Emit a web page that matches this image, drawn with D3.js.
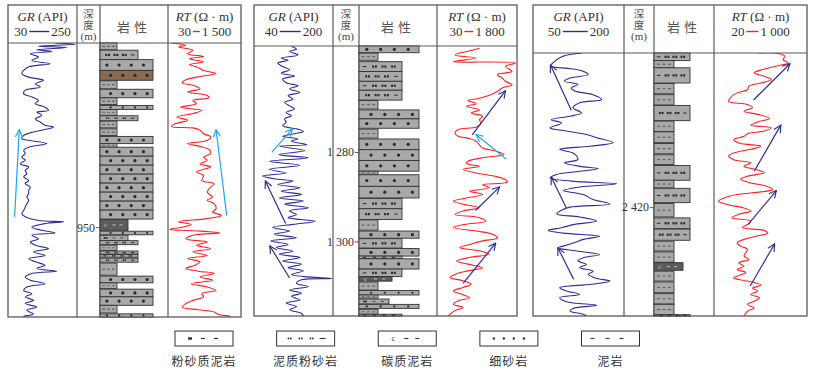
<!DOCTYPE html>
<html><head><meta charset="utf-8">
<script src="https://cdn.jsdelivr.net/npm/d3@7"></script>
<style>
body{margin:0;background:#fff;}
svg text{font-family:"Liberation Serif","DejaVu Serif",serif;fill:#333;}
svg text.cjk{font-family:"Noto Sans CJK SC",sans-serif;}
</style></head>
<body><div id="chart"></div>
<script>
// ---- well 1 ----
const depth1 = [909, 970], depthTicks1 = [950];
const grRange1 = [30, 250], rtRange1 = [30, 1500];
const gr1 = [[909.0,180],[909.3,244],[909.7,127],[910.0,217],[910.5,122],[910.9,170],[911.4,101],[912.1,127],[912.9,106],[913.6,164],[914.3,96],[915.1,80],[915.8,74],[916.6,96],[917.3,143],[918.1,117],[918.8,133],[919.5,85],[920.3,80],[921.0,106],[921.8,127],[922.5,117],[923.3,148],[924.0,159],[924.4,122],[925.1,138],[925.9,117],[926.6,133],[927.3,148],[927.7,175],[928.1,159],[928.8,111],[929.6,80],[930.3,74],[930.7,101],[931.4,154],[932.2,96],[932.9,80],[933.6,85],[934.4,74],[935.1,85],[935.9,69],[936.6,96],[937.4,85],[938.1,90],[938.8,80],[939.6,96],[940.3,85],[941.1,101],[941.8,96],[942.5,96],[943.3,90],[944.0,96],[944.8,90],[945.5,85],[946.3,80],[947.0,74],[947.7,85],[948.5,127],[948.8,207],[949.2,148],[950.0,106],[950.7,138],[951.3,180],[951.8,106],[952.6,127],[953.3,101],[954.0,117],[954.8,159],[955.5,111],[956.3,148],[957.0,96],[957.7,117],[958.5,148],[959.2,122],[959.8,185],[960.3,106],[961.1,85],[961.8,101],[962.6,148],[963.3,90],[964.1,80],[964.8,106],[965.5,85],[966.3,111],[967.0,85],[967.8,122],[968.5,90],[969.3,111],[969.8,80]];
const rt1 = [[909.0,102],[909.5,389],[909.9,245],[910.6,532],[911.4,424],[912.0,747],[912.5,460],[913.2,747],[913.8,460],[914.3,604],[915.1,747],[915.8,998],[916.4,711],[917.2,389],[917.9,317],[918.4,532],[919.2,675],[919.9,424],[920.7,819],[921.2,855],[921.8,532],[922.5,604],[923.3,281],[924.0,711],[924.7,532],[925.5,209],[926.2,424],[927.0,173],[927.6,102],[927.9,532],[928.4,675],[929.2,747],[929.9,890],[930.7,819],[931.4,424],[932.0,675],[932.7,855],[933.6,890],[934.4,747],[935.1,819],[935.9,675],[936.6,890],[937.7,604],[938.5,747],[939.6,711],[940.3,962],[941.1,890],[942.2,819],[943.3,926],[944.0,819],[944.8,962],[945.9,998],[946.6,926],[947.4,1106],[948.1,819],[948.8,245],[949.4,496],[950.0,317],[950.5,66],[950.8,568],[951.3,1070],[951.8,532],[952.6,389],[953.3,819],[954.0,604],[954.8,890],[955.5,532],[956.3,819],[957.0,424],[957.7,675],[958.5,568],[959.2,389],[959.8,639],[960.3,962],[961.1,675],[961.8,926],[962.6,496],[963.3,819],[964.1,998],[964.8,711],[965.5,747],[966.3,532],[967.0,389],[967.8,317],[968.4,639],[968.9,962],[969.4,1034],[969.8,1285]];
const litho1 = [[909.0,910.5,"mud"],[910.6,912.7,"argSilt"],[912.7,915.1,"sand"],[915.1,917.3,"sandOil"],[917.4,919.2,"mud"],[919.3,921.2,"sand"],[921.2,922.7,"mud"],[922.9,923.8,"sand"],[923.8,925.1,"mud"],[925.2,926.3,"argSilt"],[926.4,927.9,"mud"],[928.1,929.6,"mud"],[929.8,931.4,"sand"],[931.4,932.2,"mud"],[932.2,934.2,"sand"],[934.2,936.2,"sand"],[936.2,938.2,"sand"],[938.2,940.2,"sand"],[940.2,942.2,"sand"],[942.2,944.2,"sand"],[944.2,946.2,"sand"],[946.2,948.2,"sand"],[948.3,950.7,"carb"],[950.9,951.7,"sand"],[951.8,953.0,"siltyMud"],[953.0,953.9,"argSilt"],[954.0,955.2,"mud"],[955.3,956.0,"argSilt"],[956.1,956.7,"argSilt"],[956.9,957.8,"argSilt"],[958.0,960.7,"mud"],[960.9,962.4,"sand"],[962.4,963.7,"mud"],[963.8,965.5,"sand"],[965.5,967.4,"sand"],[967.4,969.1,"mud"],[969.3,970.0,"sand"]];
const grCyan1 = [[947.7,51,928.3,66]], grNavy1 = [];
const rtCyan1 = [[947.4,1213,928.3,998]], rtNavy1 = [];

// ---- well 2 ----
const depth2 = [1256.3, 1316.7], depthTicks2 = [1280, 1300];
const grRange2 = [40, 200], rtRange2 = [30, 1800];
const gr2 = [[1256.4,116],[1257.0,126],[1257.5,112],[1258.3,129],[1259.0,95],[1259.5,109],[1260.1,88],[1260.9,98],[1261.6,112],[1262.4,95],[1263.0,122],[1263.7,98],[1264.5,105],[1265.2,129],[1265.9,112],[1266.7,133],[1267.4,109],[1268.2,119],[1268.9,102],[1269.7,112],[1270.4,122],[1271.2,105],[1271.9,116],[1272.6,102],[1273.4,105],[1274.1,98],[1274.6,112],[1274.9,129],[1275.4,140],[1276.0,119],[1276.5,98],[1277.1,129],[1277.6,116],[1278.4,147],[1278.7,91],[1279.7,143],[1280.6,91],[1281.3,150],[1282.1,71],[1283.0,133],[1283.9,71],[1284.7,105],[1285.4,57],[1286.0,81],[1286.5,119],[1287.3,88],[1288.0,133],[1288.8,95],[1289.5,136],[1290.3,91],[1291.0,140],[1291.7,102],[1292.5,150],[1293.2,112],[1294.0,126],[1294.7,109],[1295.5,164],[1296.2,119],[1296.9,78],[1297.7,112],[1298.4,81],[1299.2,126],[1299.9,74],[1300.7,109],[1301.4,85],[1302.2,119],[1302.9,91],[1303.6,133],[1304.4,98],[1305.1,136],[1305.9,109],[1306.6,140],[1307.4,116],[1307.9,143],[1308.3,198],[1308.6,136],[1309.4,126],[1310.1,150],[1310.9,112],[1311.6,136],[1312.3,116],[1313.1,133],[1313.8,105],[1314.6,126],[1315.3,112],[1316.1,136],[1316.7,140]];
const rt2 = [[1256.8,969],[1257.3,788],[1258.3,427],[1259.0,896],[1259.8,391],[1260.1,1763],[1260.9,1546],[1262.0,1691],[1262.7,1366],[1263.5,1474],[1264.2,1546],[1265.0,1691],[1265.7,1474],[1266.5,1366],[1267.2,1221],[1268.0,969],[1268.5,716],[1269.2,896],[1269.8,680],[1270.6,969],[1271.3,788],[1272.0,1041],[1272.8,969],[1273.5,1005],[1274.4,896],[1275.0,499],[1275.8,427],[1276.5,499],[1277.0,752],[1277.6,896],[1278.4,969],[1279.1,1041],[1279.8,1330],[1280.6,1510],[1281.3,1041],[1282.1,716],[1282.6,680],[1283.2,969],[1283.9,608],[1284.7,896],[1285.4,1294],[1286.2,1546],[1286.8,1582],[1287.3,1041],[1288.0,1185],[1288.8,752],[1289.5,1041],[1290.3,680],[1291.0,391],[1291.7,608],[1292.5,969],[1293.2,608],[1294.0,427],[1294.7,969],[1295.5,1113],[1296.2,644],[1296.9,391],[1297.7,896],[1298.4,1257],[1299.2,1366],[1299.9,1041],[1300.7,752],[1301.4,535],[1302.2,1005],[1302.9,1185],[1303.6,752],[1304.4,463],[1305.1,716],[1305.9,1041],[1306.6,716],[1307.4,427],[1308.1,319],[1308.8,608],[1309.6,788],[1310.3,608],[1311.1,391],[1311.8,571],[1312.6,752],[1313.3,499],[1314.1,391],[1314.8,608],[1315.5,427],[1316.3,319],[1316.7,283]];
const litho2 = [[1256.3,1257.8,"sand"],[1257.9,1259.5,"mud"],[1259.8,1262.0,"argSilt"],[1262.0,1264.2,"argSilt"],[1264.2,1266.2,"argSilt"],[1266.2,1268.4,"argSilt"],[1268.5,1270.4,"mud"],[1270.6,1272.6,"sand"],[1272.6,1274.7,"sand"],[1274.9,1276.9,"mud"],[1277.1,1279.5,"sand"],[1279.5,1281.9,"sand"],[1281.9,1284.3,"sand"],[1284.3,1285.0,"mud"],[1285.1,1287.7,"sand"],[1287.7,1290.3,"sand"],[1290.4,1292.7,"argSilt"],[1292.7,1295.1,"argSilt"],[1295.2,1297.5,"mud"],[1297.7,1299.3,"sand"],[1299.4,1301.5,"argSilt"],[1301.6,1303.3,"sand"],[1303.3,1303.9,"argSilt"],[1303.9,1306.2,"sand"],[1306.2,1307.9,"argSilt"],[1307.9,1308.9,"carb"],[1309.1,1310.9,"mud"],[1311.0,1312.0,"sand"],[1312.0,1312.7,"mud"],[1312.9,1314.0,"siltyMud"],[1314.1,1315.0,"sand"],[1315.2,1316.3,"mud"],[1316.3,1316.7,"argSilt"]];
const grCyan2 = [[1280.1,76,1274.8,118]];
const grNavy2 = [[1296.0,104,1286.5,63],[1308.2,112,1301.0,72]];
const rtCyan2 = [[1281.6,1561,1276.1,896]];
const rtNavy2 = [[1276.2,810,1266.3,1546],[1293.1,882,1287.8,1416],[1309.4,608,1300.4,1330]];

// ---- well 3 ----
const depth3 = [2385.6, 2444.3], depthTicks3 = [2420];
const grRange3 = [50, 200], rtRange3 = [20, 1000];
const gr3 = [[2385.6,130],[2386.3,100],[2387.1,89],[2387.8,83],[2388.5,78],[2389.1,113],[2389.7,133],[2390.4,141],[2391.2,111],[2391.9,102],[2392.6,124],[2393.4,113],[2394.1,119],[2394.9,149],[2396.0,163],[2396.7,127],[2397.8,116],[2399.0,130],[2399.7,111],[2400.5,80],[2401.2,97],[2402.3,78],[2403.0,105],[2403.8,138],[2404.5,155],[2405.6,182],[2406.4,144],[2407.1,94],[2407.9,116],[2408.6,122],[2409.4,124],[2410.1,102],[2410.9,127],[2411.4,158],[2412.1,122],[2412.7,89],[2413.5,78],[2414.2,113],[2414.8,188],[2415.5,127],[2416.3,100],[2417.2,133],[2418.3,149],[2419.3,177],[2420.0,111],[2420.7,97],[2421.5,89],[2422.2,127],[2423.1,155],[2423.9,116],[2424.6,97],[2425.2,75],[2425.8,100],[2426.5,160],[2427.2,133],[2427.9,119],[2428.5,105],[2429.1,91],[2429.8,122],[2430.6,160],[2431.3,133],[2432.0,124],[2432.8,138],[2433.5,127],[2434.3,149],[2435.0,141],[2435.8,152],[2436.5,177],[2437.2,147],[2438.0,94],[2438.7,105],[2439.5,127],[2440.2,94],[2441.1,105],[2441.9,155],[2442.6,116],[2443.2,111],[2443.9,133],[2444.3,138]];
const rt3 = [[2385.6,480],[2385.7,695],[2386.3,767],[2387.1,749],[2387.8,803],[2388.6,659],[2389.3,533],[2390.0,444],[2390.8,551],[2391.5,623],[2392.3,515],[2393.0,390],[2393.8,372],[2394.5,264],[2395.6,192],[2396.4,174],[2397.1,372],[2397.8,426],[2398.6,336],[2399.3,480],[2400.2,605],[2401.0,480],[2401.7,408],[2402.3,623],[2403.0,551],[2403.6,372],[2404.2,336],[2404.9,228],[2405.7,282],[2406.4,515],[2407.1,408],[2407.9,228],[2408.6,174],[2409.4,228],[2410.1,408],[2410.9,336],[2411.6,462],[2412.3,551],[2413.1,372],[2413.8,300],[2414.6,408],[2415.3,569],[2416.1,641],[2416.6,515],[2417.2,264],[2418.0,121],[2418.7,67],[2419.4,156],[2420.2,336],[2420.9,408],[2421.6,282],[2422.4,210],[2423.1,408],[2423.9,372],[2424.6,318],[2425.2,551],[2425.8,587],[2426.5,462],[2427.2,336],[2428.0,264],[2428.7,300],[2429.4,372],[2430.2,354],[2430.9,336],[2431.7,390],[2432.4,282],[2433.2,336],[2433.9,264],[2434.6,354],[2435.8,228],[2436.5,372],[2437.4,515],[2438.1,426],[2438.7,480],[2439.5,408],[2440.2,497],[2441.0,444],[2441.7,372],[2442.5,444],[2443.2,372],[2444.3,336]];
const litho3 = [[2385.6,2387.3,"argSilt"],[2387.3,2388.9,"mud"],[2388.9,2392.3,"argSilt"],[2392.4,2394.7,"mud"],[2394.9,2397.2,"mud"],[2397.3,2400.7,"argSilt"],[2400.8,2403.1,"mud"],[2403.2,2405.6,"mud"],[2405.8,2408.1,"mud"],[2408.3,2410.5,"mud"],[2410.7,2414.0,"argSilt"],[2414.0,2415.7,"mud"],[2415.8,2419.0,"argSilt"],[2419.2,2422.2,"mud"],[2422.4,2424.8,"argSilt"],[2424.9,2427.4,"argSilt"],[2427.6,2429.8,"mud"],[2430.0,2432.3,"mud"],[2432.4,2434.1,"carb"],[2434.3,2436.5,"mud"],[2436.7,2439.1,"mud"],[2439.3,2441.6,"mud"],[2441.7,2444.0,"mud"],[2444.0,2444.3,"argSilt"]];
const grCyan3 = [], rtCyan3 = [];
const grNavy3 = [[2398.4,113,2388.3,79],[2420.2,105,2413.3,80],[2436.1,117,2429.1,91]];
const rtNavy3 = [[2396.1,436,2388.0,821],[2412.0,444,2401.7,724],[2423.9,379,2416.3,677],[2437.6,401,2428.2,659]];

// legend
const legendTypes = ["siltyMud", "argSilt", "carb", "sand", "mud"];
const legendLabels = ["粉砂质泥岩", "泥质粉砂岩", "碳质泥岩", "细砂岩", "泥岩"];

const NAVY = "#2e2e98", RED = "#ff1f1f", CYAN = "#19a9ea";
const fmt = d3.formatLocale({decimal: ".", thousands: " ", grouping: [3], currency: ["", ""]}).format(",");

const panels = [
  {cols:[8,77,100,168,241], top:5, bodyTop:43, bottom:317, grLine:20, rtLine:7,
   widths:{mud:17, siltyMud:28, carb:28, argSilt:38, sand:53, sandOil:53},
   depth:depth1, ticks:depthTicks1, grRange:grRange1, rtRange:rtRange1, gr:gr1, rt:rt1, litho:litho1,
   grCyan:grCyan1, grNavy:grNavy1, rtCyan:rtCyan1, rtNavy:rtNavy1},
  {cols:[254,333,359,437,517], top:5, bodyTop:46, bottom:316, grLine:21, rtLine:9,
   widths:{mud:19, siltyMud:30, carb:33, argSilt:43, sand:60},
   depth:depth2, ticks:depthTicks2, grRange:grRange2, rtRange:rtRange2, gr:gr2, rt:rt2, litho:litho2,
   grCyan:grCyan2, grNavy:grNavy2, rtCyan:rtCyan2, rtNavy:rtNavy2},
  {cols:[533,624,654,714,807], top:5, bodyTop:53, bottom:316, grLine:25, rtLine:12,
   widths:{mud:20, siltyMud:29, carb:29, argSilt:36, sand:50},
   depth:depth3, ticks:depthTicks3, grRange:grRange3, rtRange:rtRange3, gr:gr3, rt:rt3, litho:litho3,
   grCyan:grCyan3, grNavy:grNavy3, rtCyan:rtCyan3, rtNavy:rtNavy3}
];

const fills = {mud:"#a9a9a9", siltyMud:"#a9a9a9", argSilt:"#a9a9a9", sand:"#a9a9a9", sandOil:"#8c6a52", carb:"#5c5c5c"};

const svg = d3.select("#chart").append("svg").attr("width", 814).attr("height", 381);
const defs = svg.append("defs");
[["navy", NAVY], ["cyan", CYAN]].forEach(([k, c]) => {
  defs.append("marker").attr("id", "ah-" + k).attr("viewBox", "0 0 10 10")
    .attr("refX", 9).attr("refY", 5).attr("markerWidth", 9).attr("markerHeight", 9)
    .attr("markerUnits", "userSpaceOnUse").attr("orient", "auto")
    .append("path").attr("d", "M1,1L9,5L1,9").attr("fill", "none").attr("stroke", c).attr("stroke-width", 1.3);
});

// little lithology symbols, centred at (cx, cy)
function dash(g, cx, cy, len, col, sw) {
  g.append("line").attr("x1", cx - len/2).attr("x2", cx + len/2).attr("y1", cy).attr("y2", cy)
    .attr("stroke", col).attr("stroke-width", sw);
}
function pair(g, cx, cy, s, col) {
  g.append("rect").attr("x", cx - 2.4*s).attr("y", cy - 1.1*s).attr("width", 2*s).attr("height", 2.2*s).attr("fill", col);
  g.append("rect").attr("x", cx + 0.4*s).attr("y", cy - 1.1*s).attr("width", 2*s).attr("height", 2.2*s).attr("fill", col);
}
function drawPattern(g, type, x0, w, cy, i, h) {
  const s = h < 6 ? 0.7 : 1, col = "#2a2a2a";
  if (type === "sand" || type === "sandOil") {
    const off = i % 2 ? 0.07 : 0;
    [0.13, 0.36, 0.59, 0.82].forEach(f => g.append("circle").attr("cx", x0 + w*(f + off)).attr("cy", cy).attr("r", 1.6*s).attr("fill", col));
  } else if (type === "mud") {
    [0.22, 0.5, 0.78].forEach(f => dash(g, x0 + w*f, cy, 2.6, "#444", 0.9*s));
  } else if (type === "argSilt") {
    if (i % 2) { [0.2, 0.42, 0.64].forEach(f => pair(g, x0 + w*f, cy, s, col)); dash(g, x0 + w*0.86, cy, 3.5, col, 1); }
    else { dash(g, x0 + w*0.13, cy, 3.5, col, 1); [0.36, 0.58, 0.8].forEach(f => pair(g, x0 + w*f, cy, s, col)); }
  } else if (type === "siltyMud") {
    g.append("rect").attr("x", x0 + w*0.2 - 2).attr("y", cy - 1.1*s).attr("width", 4).attr("height", 2.2*s).attr("fill", col);
    [0.5, 0.78].forEach(f => dash(g, x0 + w*f, cy, 3, "#444", 0.9));
  } else if (type === "carb") {
    g.append("text").attr("x", x0 + w*0.2).attr("y", cy + 2.5).attr("text-anchor", "middle")
      .style("font-size", "7px").style("fill", "#ccc").text("c");
    [0.5, 0.75].forEach(f => dash(g, x0 + w*f, cy, 3, "#ccc", 0.9));
  }
}

function scaleLine(g, cx, y, lo, hi, len, col) {
  const a = g.append("text").attr("y", y).style("font-size", "13px").text(lo);
  const b = g.append("text").attr("y", y).style("font-size", "13px").text(hi);
  const wa = a.node().getComputedTextLength(), wb = b.node().getComputedTextLength();
  const gap = 2, total = wa + gap + len + gap + wb, x0 = cx - total/2;
  a.attr("x", x0);
  g.append("line").attr("x1", x0 + wa + gap).attr("x2", x0 + wa + gap + len).attr("y1", y - 4.5).attr("y2", y - 4.5)
    .attr("stroke", col).attr("stroke-width", 1.4);
  b.attr("x", x0 + wa + 2*gap + len);
}

panels.forEach((p, pi) => {
  const g = svg.append("g");
  const [c0, c1, c2, c3, c4] = p.cols;
  const y = d3.scaleLinear().domain(p.depth).range([p.bodyTop, p.bottom]);
  const xGR = d3.scaleLinear().domain(p.grRange).range([c0, c1]);
  const xRT = d3.scaleLinear().domain(p.rtRange).range([c3, c4]);

  // frame and column lines
  g.append("rect").attr("x", c0).attr("y", p.top).attr("width", c4 - c0).attr("height", p.bottom - p.top)
    .attr("fill", "none").attr("stroke", "#5a5a5a").attr("stroke-width", 1.3);
  g.append("line").attr("x1", c0).attr("x2", c4).attr("y1", p.bodyTop).attr("y2", p.bodyTop)
    .attr("stroke", "#5a5a5a").attr("stroke-width", 1.2);
  [c1, c2, c3].forEach(c => g.append("line").attr("x1", c).attr("x2", c).attr("y1", p.top).attr("y2", p.bottom)
    .attr("stroke", "#5a5a5a").attr("stroke-width", 1.2));

  // headers
  const t1 = g.append("text").attr("x", (c0 + c1)/2).attr("y", p.top + 16).attr("text-anchor", "middle").style("font-size", "13px");
  t1.append("tspan").style("font-style", "italic").text("GR");
  t1.append("tspan").text(" (API)");
  scaleLine(g, (c0 + c1)/2, p.top + 31, fmt(p.grRange[0]), fmt(p.grRange[1]), p.grLine, NAVY);
  const t2 = g.append("text").attr("x", (c3 + c4)/2).attr("y", p.top + 16).attr("text-anchor", "middle").style("font-size", "13px");
  t2.append("tspan").style("font-style", "italic").text("RT");
  t2.append("tspan").text(" (Ω · m)");
  scaleLine(g, (c3 + c4)/2, p.top + 31, fmt(p.rtRange[0]), fmt(p.rtRange[1]), p.rtLine, RED);
  const cd = (c1 + c2)/2;
  // 深度 stacked vertically as one text, (m) below it
  g.append("text").attr("class", "cjk").attr("x", cd).attr("y", p.top + 4)
    .attr("writing-mode", "tb").style("writing-mode", "vertical-rl").style("font-size", "10.5px").style("fill", "#555").text("深度");
  g.append("text").attr("x", cd).attr("y", p.top + 34.5).attr("text-anchor", "middle").style("font-size", "11px").style("fill", "#444").text("(m)");
  g.append("text").attr("class", "cjk").attr("x", (c2 + c3)/2).attr("y", p.top + 27).attr("text-anchor", "middle")
    .style("font-size", "13px").style("fill", "#555").style("letter-spacing", "4px").text("岩性");

  // lithology column
  const lg = g.append("g");
  p.litho.forEach((d, i) => {
    const w = p.widths[d[2]], y0 = y(d[0]), y1 = y(d[1]);
    lg.append("rect").attr("x", c2).attr("y", y0).attr("width", w).attr("height", y1 - y0)
      .attr("fill", fills[d[2]]).attr("stroke", "#333").attr("stroke-width", 0.9);
    drawPattern(lg, d[2], c2, w, (y0 + y1)/2, i, y1 - y0);
  });

  // depth axis
  const ax = g.append("g").attr("transform", `translate(${c2},0)`)
    .call(d3.axisLeft(y).tickValues(p.ticks).tickSize(4).tickPadding(1).tickFormat(fmt));
  ax.select(".domain").remove();
  ax.selectAll("line").attr("stroke", "#555");
  ax.selectAll("text").style("font-size", "12px").style("font-family", "Liberation Serif, serif").attr("fill", "#333");

  // curves
  const clipG = "clipgr" + pi, clipR = "cliprt" + pi;
  defs.append("clipPath").attr("id", clipG).append("rect").attr("x", c0).attr("y", p.bodyTop).attr("width", c1 - c0).attr("height", p.bottom - p.bodyTop);
  defs.append("clipPath").attr("id", clipR).append("rect").attr("x", c3).attr("y", p.bodyTop).attr("width", c4 - c3).attr("height", p.bottom - p.bodyTop);
  const lineGR = d3.line().x(d => xGR(d[1])).y(d => y(d[0])).curve(d3.curveCatmullRom.alpha(0.5));
  const lineRT = d3.line().x(d => xRT(d[1])).y(d => y(d[0])).curve(d3.curveCatmullRom.alpha(0.5));
  g.append("path").datum(p.gr).attr("clip-path", `url(#${clipG})`).attr("fill", "none").attr("stroke", NAVY).attr("stroke-width", 1.1).attr("d", lineGR);
  g.append("path").datum(p.rt).attr("clip-path", `url(#${clipR})`).attr("fill", "none").attr("stroke", RED).attr("stroke-width", 1.1).attr("d", lineRT);

  // trend arrows
  const arrows = (data, xs, col, key) => g.selectAll(null).data(data).enter().append("line")
    .attr("x1", d => xs(d[1])).attr("y1", d => y(d[0])).attr("x2", d => xs(d[3])).attr("y2", d => y(d[2]))
    .attr("stroke", col).attr("stroke-width", 1.2).attr("marker-end", `url(#ah-${key})`);
  arrows(p.grCyan, xGR, CYAN, "cyan");
  arrows(p.grNavy, xGR, NAVY, "navy");
  arrows(p.rtCyan, xRT, CYAN, "cyan");
  arrows(p.rtNavy, xRT, NAVY, "navy");
});

// legend
const lx = d3.scalePoint().domain(legendTypes).range([204, 610.5]);
legendTypes.forEach((t, i) => {
  const cx = lx(t), g = svg.append("g"), cy = 338.5;
  g.append("rect").attr("x", cx - 29).attr("y", 331).attr("width", 58).attr("height", 15)
    .attr("fill", "#fff").attr("stroke", "#333").attr("stroke-width", 1);
  const col = "#333";
  if (t === "siltyMud") {
    g.append("rect").attr("x", cx - 16).attr("y", cy - 1.2).attr("width", 4).attr("height", 2.4).attr("fill", col);
    [-1, 12].forEach(o => dash(g, cx + o, cy, 4, col, 1.1));
  } else if (t === "argSilt") {
    [-16, -5, 6].forEach(o => { g.append("circle").attr("cx", cx + o - 1.2).attr("cy", cy).attr("r", 0.9).attr("fill", col);
      g.append("circle").attr("cx", cx + o + 1.2).attr("cy", cy).attr("r", 0.9).attr("fill", col); });
    dash(g, cx + 17, cy, 6, col, 1.1);
  } else if (t === "carb") {
    g.append("text").attr("x", cx - 14).attr("y", cy + 2.5).attr("text-anchor", "middle").style("font-size", "8px").text("c");
    [-1, 10].forEach(o => dash(g, cx + o, cy, 4, col, 1.1));
  } else if (t === "sand") {
    [-15, -5, 5, 15].forEach(o => g.append("circle").attr("cx", cx + o).attr("cy", cy).attr("r", 1.2).attr("fill", col));
  } else {
    [-18, -3, 11].forEach(o => dash(g, cx + o, cy, 4, col, 1.1));
  }
  g.append("text").attr("class", "cjk").attr("x", cx).attr("y", 366).attr("text-anchor", "middle")
    .style("font-size", "12px").style("letter-spacing", "1px").style("fill", "#333").text(legendLabels[i]);
});
</script>
</body></html>
